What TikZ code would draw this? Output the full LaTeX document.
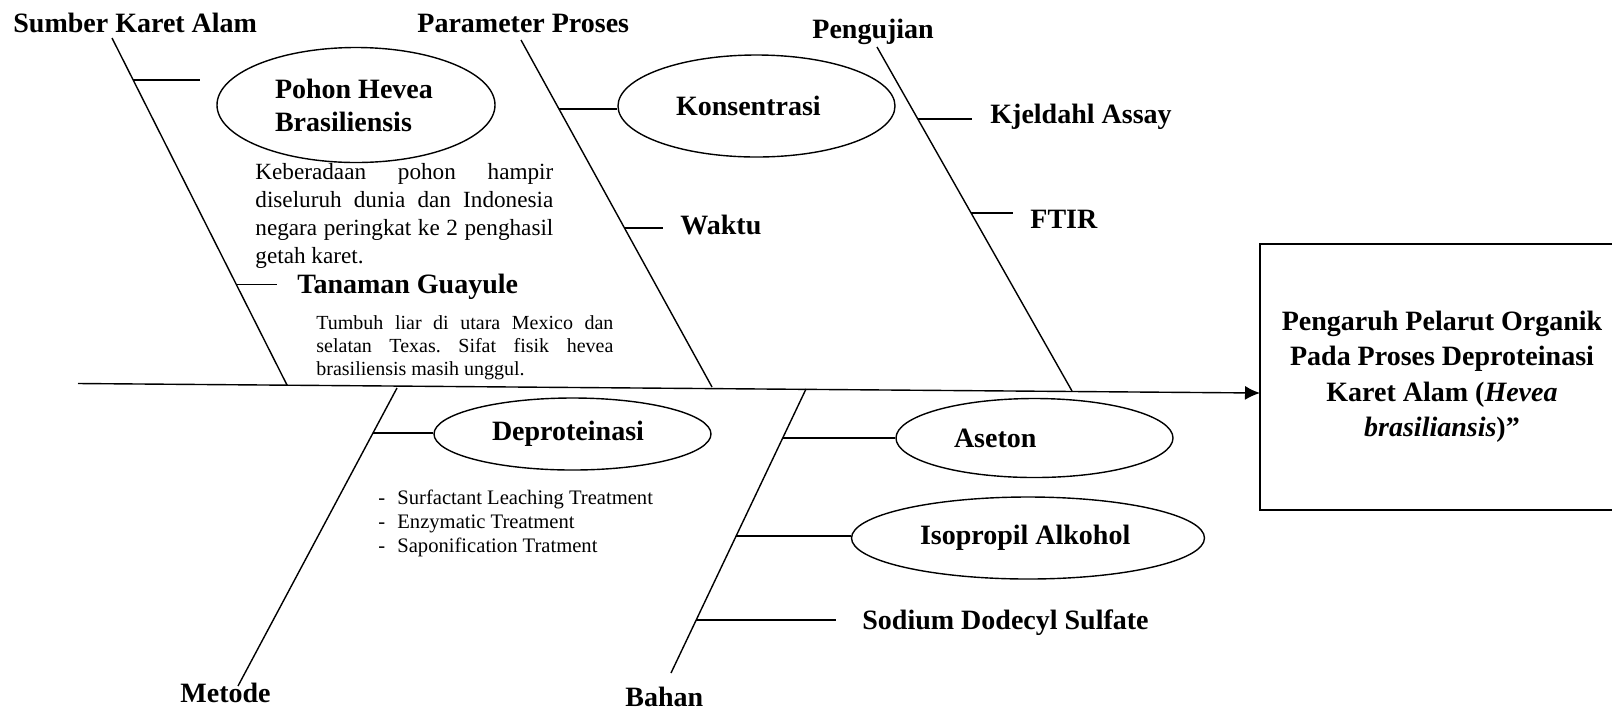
\documentclass[tikz,border=0pt]{standalone}
\usepackage{fontspec}
\setmainfont{Liberation Serif}
\usetikzlibrary{shapes.geometric,arrows.meta}

\newcommand{\rata}[2]{{\spaceskip=0pt\xspaceskip=0pt\frenchspacing\makebox[#1][s]{#2}}}

\tikzset{
  garis/.style={line width=0.7pt},
  judul/.style={font=\fontsize{14}{17}\selectfont\bfseries, inner sep=0pt, anchor=base west},
  spasi/.style={execute at begin node={\spaceskip=0pt\xspaceskip=0pt\frenchspacing}},
  elips/.style={draw, ellipse, line width=0.7pt, inner sep=0pt, align=left, spasi,
                font=\fontsize{14}{16.5}\selectfont\bfseries, text width=80.5pt},
  ket/.style={inner sep=0pt, anchor=base west, align=left, spasi}
}

\begin{document}
\begin{tikzpicture}[x=0.5pt, y=-0.5pt, >={Latex[length=7.5pt,width=7pt]}]
    \useasboundingbox (0,0) rectangle (1612,714);
    \clip (0,0) rectangle (1612,714);

    % 1. Kotak akibat dan tulang utama
    \node[draw, line width=1pt, minimum width=182pt, minimum height=133pt, inner sep=0pt, spasi,
          font=\fontsize{14}{17.75}\selectfont\bfseries, align=center] (akibat) at (1442,377)
      {Pengaruh Pelarut Organik\\Pada Proses Deproteinasi\\Karet Alam (\textit{Hevea}\\\textit{brasiliansis})”};
    \coordinate (ekor) at (78,383.5);
    \coordinate (kepala) at (1260,393);
    \draw[garis, ->] (ekor) -- (kepala);

    % 2. Sumber Karet Alam
    \node[judul] (sumber) at (13,32) {Sumber Karet Alam};
    \coordinate (sumberA) at (112,38);
    \coordinate (sumberB) at (287,385);
    \draw[garis] (sumberA) -- (sumberB) coordinate[pos=0.121] (sumber1) coordinate[pos=0.711] (sumber2);

    \node[elips, minimum width=139pt, minimum height=57.5pt, text width=81pt] (pohon) at (356,105)
      {Pohon Hevea\\Brasiliensis};
    \coordinate (pohonR) at (200,80);
    \draw[garis] (sumber1) -- (sumber1 -| pohonR);
    \node[ket, text width=149pt, font=\fontsize{11.6}{14}\selectfont] (hevea) at (255,179)
      {\rata{149pt}{Keberadaan pohon hampir}\\\rata{149pt}{diseluruh dunia dan Indonesia}\\
       \rata{149pt}{negara peringkat ke 2 penghasil}\\getah karet.};

    \node[judul] (guayule) at (297,293) {Tanaman Guayule};
    \coordinate (guayuleR) at (277,284);
    \draw[garis] (sumber2) -- (sumber2 -| guayuleR);
    \node[ket, text width=148.5pt, font=\fontsize{10}{11.5}\selectfont] (guayuleKet) at (316,329)
      {\rata{148.5pt}{Tumbuh liar di utara Mexico dan}\\\rata{148.5pt}{selatan Texas. Sifat fisik hevea}\\
       brasiliensis masih unggul.};

    % 3. Parameter Proses
    \node[judul] (parameter) at (417,32) {Parameter Proses};
    \coordinate (paramA) at (521,40);
    \coordinate (paramB) at (712,387);
    \draw[garis] (paramA) -- (paramB) coordinate[pos=0.199] (param1) coordinate[pos=0.542] (param2);

    \node[elips, minimum width=138.5pt, minimum height=51pt] (konsentrasi) at (756.5,106) {Konsentrasi};
    \draw[garis] (param1) -- (param1 -| konsentrasi.west);

    \node[judul] (waktu) at (680,234) {Waktu};
    \coordinate (waktuR) at (663,228);
    \draw[garis] (param2) -- (param2 -| waktuR);

    % 4. Pengujian
    \node[judul] (pengujian) at (812,38) {Pengujian};
    \coordinate (ujiA) at (877,47);
    \coordinate (ujiB) at (1072,391);
    \draw[garis] (ujiA) -- (ujiB) coordinate[pos=0.209] (uji1) coordinate[pos=0.483] (uji2);

    \node[judul] (kjeldahl) at (990,123) {Kjeldahl Assay};
    \coordinate (kjeldahlR) at (972,119);
    \draw[garis] (uji1) -- (uji1 -| kjeldahlR);

    \node[judul] (ftir) at (1030,228) {FTIR};
    \coordinate (ftirR) at (1013,213);
    \draw[garis] (uji2) -- (uji2 -| ftirR);

    % 5. Metode
    \node[judul] (metode) at (180,702) {Metode};
    \coordinate (metodeA) at (397,388);
    \coordinate (metodeB) at (238,686);
    \draw[garis] (metodeA) -- (metodeB) coordinate[pos=0.151] (metode1);

    \node[elips, minimum width=138.5pt, minimum height=36pt] (deprot) at (572.5,434) {Deproteinasi};
    \draw[garis] (metode1) -- (metode1 -| deprot.west);
    \node[ket, font=\fontsize{10.3}{12}\selectfont] (cara) at (378,552)
      {\makebox[9.5pt][l]{-}Surfactant Leaching Treatment\\
       \makebox[9.5pt][l]{-}Enzymatic Treatment\\
       \makebox[9.5pt][l]{-}Saponification Tratment};

    % 6. Bahan
    \node[judul] (bahan) at (625,706) {Bahan};
    \coordinate (bahanA) at (806,389);
    \coordinate (bahanB) at (671,673);
    \draw[garis] (bahanA) -- (bahanB) coordinate[pos=0.1725] (bahan1) coordinate[pos=0.5176] (bahan2)
        coordinate[pos=0.813] (bahan3);

    \node[elips, minimum width=138.5pt, minimum height=39.5pt] (aseton) at (1034.5,438) {Aseton};
    \draw[garis] (bahan1) -- (bahan1 -| aseton.west);

    \node[elips, minimum width=176.5pt, minimum height=41pt, text width=108pt] (isopropil) at (1028,538)
      {Isopropil Alkohol};
    \draw[garis] (bahan2) -- (bahan2 -| isopropil.west);

    \node[judul] (sds) at (862,629) {Sodium Dodecyl Sulfate};
    \coordinate (sdsR) at (836,620);
    \draw[garis] (bahan3) -- (bahan3 -| sdsR);

\end{tikzpicture}
\end{document}
